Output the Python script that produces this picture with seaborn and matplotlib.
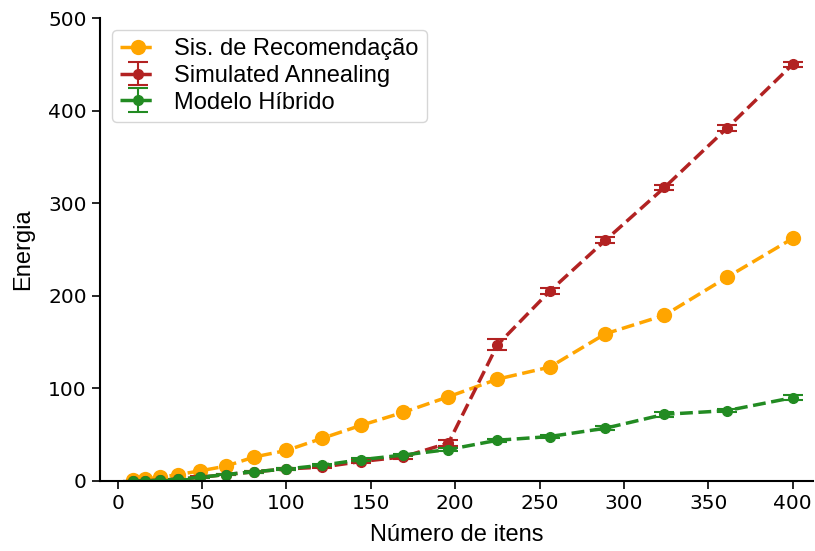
import matplotlib
matplotlib.use("Agg")
import matplotlib.pyplot as plt
import seaborn as sns
import pandas as pd

itens = [9, 16, 25, 36, 49, 64, 81, 100, 121, 144, 169, 196, 225, 256, 289, 324, 361, 400]
recomendacao = [1, 2, 4, 7, 11, 16, 26, 33, 46, 60, 74, 91, 110, 123, 159, 179, 220, 262]
annealing = [0, 0, 1, 2, 4, 7, 10, 13, 15, 21, 26, 41, 147, 205, 260, 317, 381, 450]
annealing_err = [0.5, 0.5, 0.5, 0.5, 1, 1, 1, 1.5, 1.5, 2, 2, 3, 6, 3, 3, 3, 3, 3]
hibrido = [0, 0, 1, 2, 4, 7, 10, 13, 17, 23, 28, 34, 44, 48, 57, 72, 76, 90]
hibrido_err = [0.3, 0.3, 0.3, 0.5, 0.5, 1, 1, 1, 1, 1.5, 1.5, 1.5, 1.5, 1.5, 2, 2.5, 2, 2.5]

sns.set_style("ticks")
plt.rcParams['font.family'] = ['DejaVu Sans']
plt.rcParams['text.color'] = 'black'
plt.rcParams['axes.labelcolor'] = 'black'

fig = plt.figure(figsize=(8.15, 5.51), dpi=100)
ax = fig.add_axes([100/815, 1 - 481/551, 713/815, 463/551])

df = pd.DataFrame({"itens": itens, "rec": recomendacao})
sns.lineplot(data=df, x="itens", y="rec", ax=ax, color="orange", linestyle="--",
             linewidth=2.5, marker="o", markersize=11, markeredgewidth=0,
             label="Sis. de Recomendação")

ax.errorbar(itens, annealing, yerr=annealing_err, color="firebrick", linestyle="--",
            linewidth=2.5, marker="o", markersize=7, capsize=7, elinewidth=1.5,
            capthick=1.5, label="Simulated Annealing")
ax.errorbar(itens, hibrido, yerr=hibrido_err, color="forestgreen", linestyle="--",
            linewidth=2.5, marker="o", markersize=7, capsize=7, elinewidth=1.5,
            capthick=1.5, label="Modelo Híbrido")

ax.set_xlim(-10.5, 412)
ax.set_ylim(0, 500)
ax.set_xticks(range(0, 401, 50))
ax.set_yticks(range(0, 501, 100))
ax.tick_params(labelsize=14.5, length=6, width=1.2, colors="black")
for s in ["left", "bottom"]:
    ax.spines[s].set_linewidth(1.5)
    ax.spines[s].set_color("black")
sns.despine(ax=ax)

ax.set_xlabel("Número de itens", fontsize=17, family="Liberation Sans", labelpad=8)
ax.set_ylabel("Energia", fontsize=17, family="Liberation Sans", labelpad=10)

leg = ax.legend(loc="upper left", bbox_to_anchor=(0.0, 1.0), borderaxespad=0.5,
                prop={"family": "Liberation Sans", "size": 17},
                handlelength=1.5, borderpad=0.35, labelspacing=0.2,
                handletextpad=0.8, frameon=True)

fig.savefig("out.png", dpi=100)
